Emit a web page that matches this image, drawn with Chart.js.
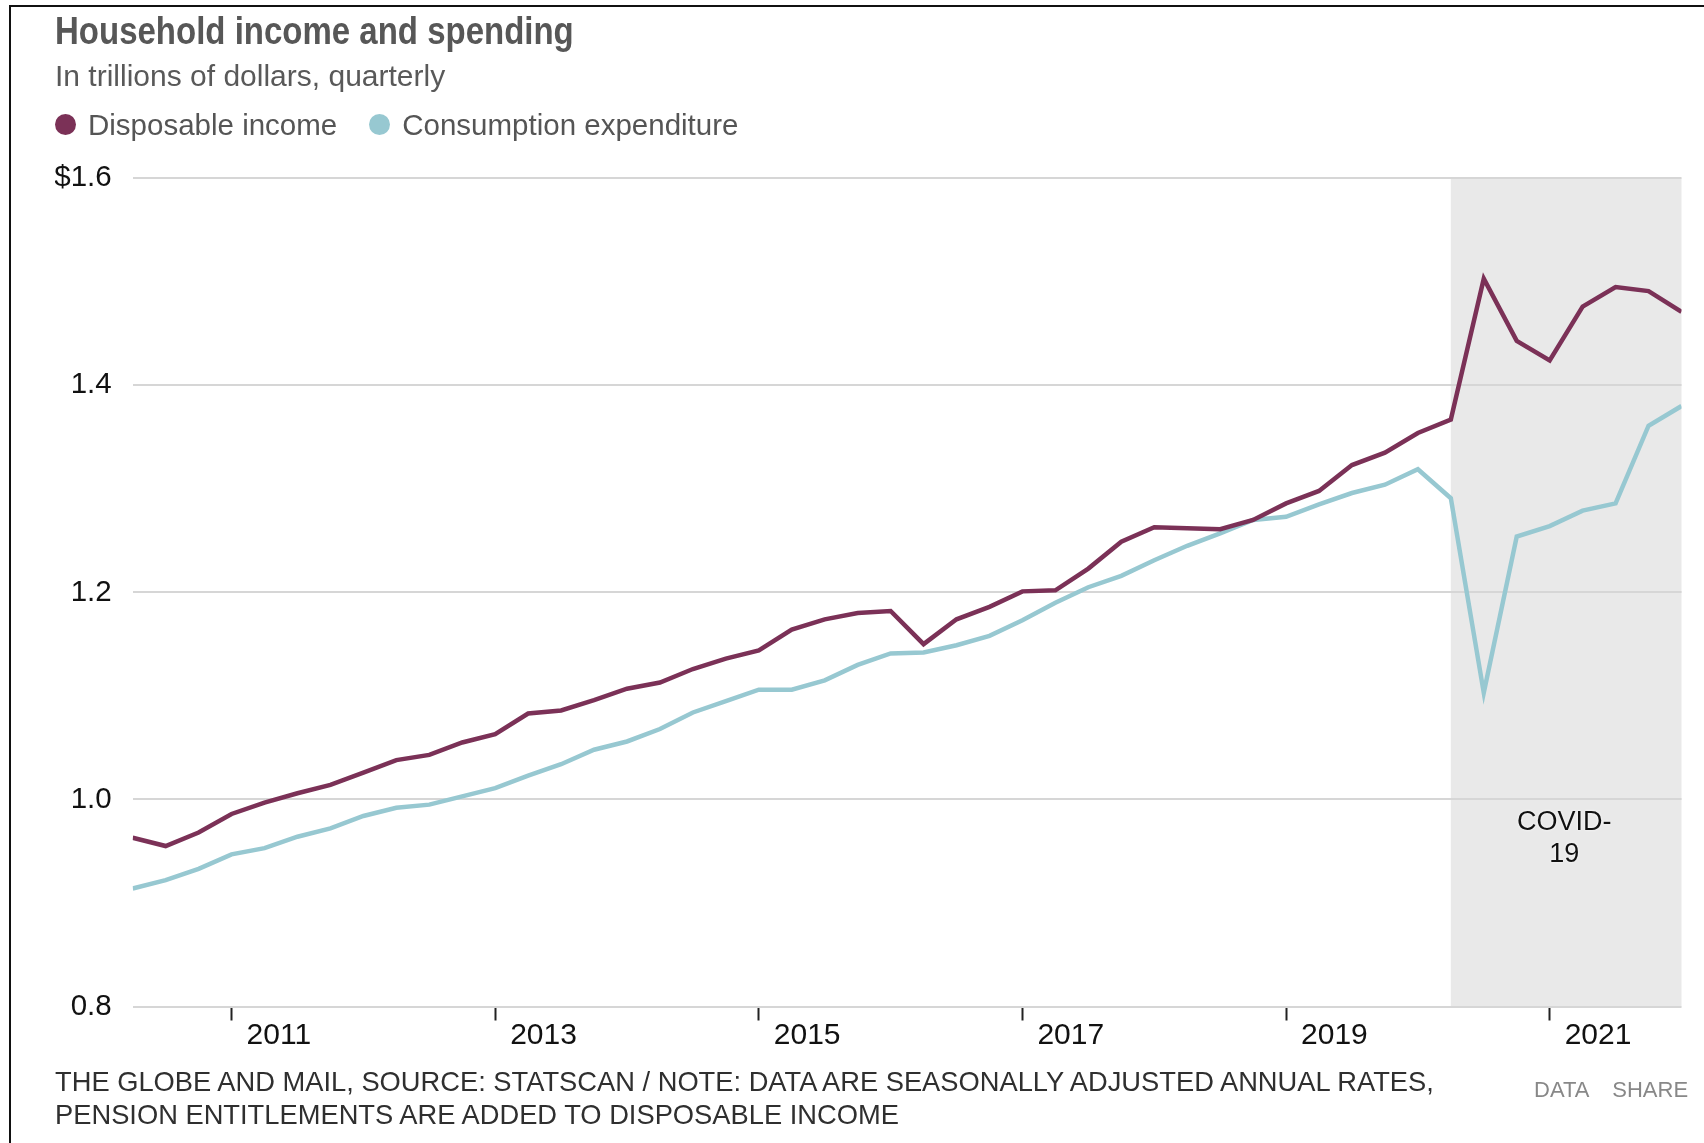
<!DOCTYPE html>
<html lang="en">
<head>
<meta charset="utf-8">
<title>Household income and spending</title>
<script src="https://cdn.jsdelivr.net/npm/chart.js@4.4.1/dist/chart.umd.min.js"></script>
<style>
    html, body { margin: 0; padding: 0; background: #fff; }
    body {
        width: 1704px;
        height: 1143px;
        position: relative;
        overflow: hidden;
        font-family: 'Liberation Sans', Arial, sans-serif;
    }
    .frame {
        position: absolute;
        left: 9px;
        top: 5px;
        width: 1800px;
        height: 1200px;
        border-top: 2px solid #111;
        border-left: 2px solid #111;
    }
    canvas { position: absolute; left: 0; top: 0; }
    .title {
        position: absolute;
        left: 55px;
        top: 6.5px;
        font-size: 39px;
        line-height: 48px;
        font-weight: bold;
        color: #575757;
        white-space: nowrap;
        transform: scaleX(0.846);
        transform-origin: 0 0;
    }
    .subtitle {
        position: absolute;
        left: 55px;
        top: 57.6px;
        font-size: 30px;
        line-height: 36px;
        color: #595959;
        white-space: nowrap;
    }
    .legend {
        position: absolute;
        left: 55px;
        top: 106.8px;
        display: flex;
        gap: 32px;
        font-size: 29.5px;
        line-height: 36px;
        color: #555;
        white-space: nowrap;
    }
    .legend span { display: flex; align-items: center; }
    .legend i {
        display: inline-block;
        width: 21px;
        height: 21px;
        border-radius: 50%;
        margin-right: 12px;
    }
    .footer {
        position: absolute;
        left: 55px;
        top: 1065px;
        font-size: 27.3px;
        line-height: 33px;
        color: #2f2f2f;
        white-space: nowrap;
    }
    .links {
        position: absolute;
        left: 1534px;
        top: 1077px;
        font-size: 22px;
        line-height: 26px;
        color: #888;
        white-space: nowrap;
        word-spacing: 18px;
    }
</style>
</head>
<body>
<div class="frame"></div>
<canvas id="chart" width="1704" height="1143"></canvas>
<div class="title">Household income and spending</div>
<div class="subtitle">In trillions of dollars, quarterly</div>
<div class="legend" id="legend"></div>
<div class="footer">THE GLOBE AND MAIL, SOURCE: STATSCAN / NOTE: DATA ARE SEASONALLY ADJUSTED ANNUAL RATES,<br>PENSION ENTITLEMENTS ARE ADDED TO DISPOSABLE INCOME</div>
<div class="links">DATA SHARE</div>

<script>
const quarters = [
    '2010 Q1', '2010 Q2', '2010 Q3', '2010 Q4',
    '2011 Q1', '2011 Q2', '2011 Q3', '2011 Q4',
    '2012 Q1', '2012 Q2', '2012 Q3', '2012 Q4',
    '2013 Q1', '2013 Q2', '2013 Q3', '2013 Q4',
    '2014 Q1', '2014 Q2', '2014 Q3', '2014 Q4',
    '2015 Q1', '2015 Q2', '2015 Q3', '2015 Q4',
    '2016 Q1', '2016 Q2', '2016 Q3', '2016 Q4',
    '2017 Q1', '2017 Q2', '2017 Q3', '2017 Q4',
    '2018 Q1', '2018 Q2', '2018 Q3', '2018 Q4',
    '2019 Q1', '2019 Q2', '2019 Q3', '2019 Q4',
    '2020 Q1', '2020 Q2', '2020 Q3', '2020 Q4',
    '2021 Q1', '2021 Q2', '2021 Q3', '2021 Q4',
];

// trillions of dollars, seasonally adjusted annual rates
const disposableIncome = [
    0.963, 0.955, 0.968, 0.986,
    0.997, 1.006, 1.014, 1.026,
    1.038, 1.043, 1.055, 1.063,
    1.083, 1.086, 1.096, 1.107,
    1.113, 1.126, 1.136, 1.144,
    1.164, 1.174, 1.180, 1.182,
    1.150, 1.174, 1.186, 1.201,
    1.202, 1.223, 1.249, 1.263,
    1.262, 1.261, 1.270, 1.286,
    1.298, 1.323, 1.335, 1.354,
    1.367, 1.503, 1.443, 1.424,
    1.476, 1.495, 1.491, 1.471,
];
const consumption = [
    0.914, 0.922, 0.933, 0.947,
    0.953, 0.964, 0.972, 0.984,
    0.992, 0.995, 1.003, 1.011,
    1.023, 1.034, 1.048, 1.056,
    1.068, 1.084, 1.095, 1.106,
    1.106, 1.115, 1.130, 1.141,
    1.142, 1.149, 1.158, 1.173,
    1.190, 1.205, 1.216, 1.231,
    1.245, 1.257, 1.270, 1.273,
    1.285, 1.296, 1.304, 1.319,
    1.291, 1.103, 1.254, 1.264,
    1.279, 1.286, 1.361, 1.380,
];

const yearTicks = [2011, 2013, 2015, 2017, 2019, 2021];
const yTicks = [0.8, 1.0, 1.2, 1.4, 1.6];
const covidFrom = '2020 Q1';
const covidLabel = ['COVID-', '19'];

const seriesNames = ['Disposable income', 'Consumption expenditure'];
const seriesColors = ['#7b3157', '#97c8d1'];

const FONT = "'Liberation Sans', Arial, sans-serif";

// points sit at the end of their quarter
const toYear = function (q) {
    return Number(q.slice(0, 4)) + Number(q.slice(-1)) / 4;
};

const toPoints = function (values) {
    return values.map((v, i) => ({ x: toYear(quarters[i]), y: v }));
};

const covidBand = {
    id: 'covidBand',
    beforeDraw(chart) {
        const { ctx, chartArea, scales } = chart;
        const left = scales.x.getPixelForValue(toYear(covidFrom));
        ctx.save();
        ctx.fillStyle = '#e9e9e9';
        ctx.fillRect(left, chartArea.top, chartArea.right - left, chartArea.bottom - chartArea.top);
        ctx.restore();
    },
    afterDraw(chart) {
        const { ctx, chartArea, scales } = chart;
        const left = scales.x.getPixelForValue(toYear(covidFrom));
        const cx = (left + chartArea.right) / 2 - 2;
        const y = scales.y.getPixelForValue(0.978);
        ctx.save();
        ctx.font = `27px ${FONT}`;
        ctx.fillStyle = '#111';
        ctx.textAlign = 'center';
        ctx.textBaseline = 'middle';
        ctx.shadowColor = 'rgba(255,255,255,0.9)';
        ctx.shadowBlur = 3;
        covidLabel.forEach((line, i) => ctx.fillText(line, cx, y + i * 32));
        ctx.restore();
    },
};

const buildLegend = function () {
    const el = document.getElementById('legend');
    seriesNames.forEach((name, i) => {
        const item = document.createElement('span');
        const dot = document.createElement('i');
        dot.style.background = seriesColors[i];
        item.appendChild(dot);
        item.appendChild(document.createTextNode(name));
        el.appendChild(item);
    });
};

const createChart = function () {
    const data = {
        datasets: [
            {
                label: seriesNames[0],
                data: toPoints(disposableIncome),
                borderColor: seriesColors[0],
                backgroundColor: seriesColors[0],
                borderWidth: 4.5,
            },
            {
                label: seriesNames[1],
                data: toPoints(consumption),
                borderColor: seriesColors[1],
                backgroundColor: seriesColors[1],
                borderWidth: 4.5,
            },
        ],
    };

    const config = {
        type: 'line',
        data: data,
        options: {
            responsive: false,
            animation: false,
            layout: {
                padding: { left: 55, right: 22.5, top: 178.3, bottom: 76.5 },
            },
            elements: {
                line: { tension: 0 },
                point: { radius: 0, hoverRadius: 0 },
            },
            plugins: {
                legend: { display: false },
                tooltip: { enabled: false },
            },
            scales: {
                x: {
                    type: 'linear',
                    min: toYear(quarters[0]),
                    max: toYear(quarters[quarters.length - 1]),
                    afterBuildTicks: (scale) => {
                        scale.ticks = yearTicks.map((v) => ({ value: v }));
                    },
                    afterFit: (scale) => {
                        scale.height = 60;
                    },
                    grid: {
                        drawOnChartArea: false,
                        drawTicks: true,
                        tickLength: 14,
                        tickWidth: 2,
                        tickColor: '#222',
                    },
                    border: { display: false },
                    ticks: {
                        align: 'start',
                        labelOffset: 15,
                        padding: 0,
                        maxRotation: 0,
                        autoSkip: false,
                        color: '#111',
                        font: { family: FONT, size: 30, lineHeight: 1 },
                        callback: (v) => String(v),
                    },
                },
                y: {
                    min: yTicks[0],
                    max: yTicks[yTicks.length - 1],
                    afterBuildTicks: (scale) => {
                        scale.ticks = yTicks.map((v) => ({ value: v }));
                    },
                    afterFit: (scale) => {
                        scale.width = 77.7;
                    },
                    grid: {
                        color: '#d6d6d6',
                        lineWidth: 2,
                        drawTicks: false,
                    },
                    border: { display: false },
                    ticks: {
                        padding: 21,
                        color: '#111',
                        font: { family: FONT, size: 29.5 },
                        callback: (v) => (v === yTicks[yTicks.length - 1] ? '$' : '') + v.toFixed(1),
                    },
                },
            },
        },
        plugins: [covidBand],
    };

    const ctx = document.getElementById('chart');
    new Chart(ctx, config);
};

const init = function () {
    buildLegend();
    createChart();
};

document.addEventListener('DOMContentLoaded', init);
</script>
</body>
</html>
